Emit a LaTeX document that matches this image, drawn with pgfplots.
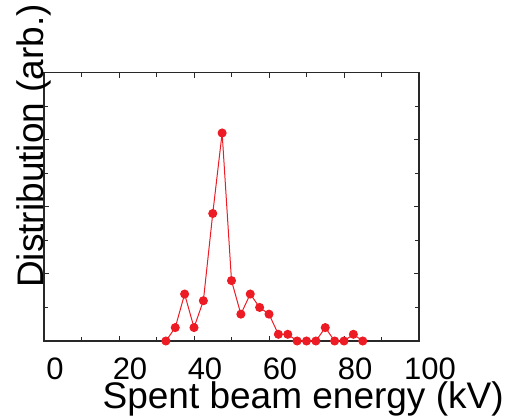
\documentclass[border=0pt]{standalone}
\usepackage{pgfplots}
\pgfplotsset{compat=1.18}
\usepackage{fontspec}
\setmainfont{Liberation Sans}
\definecolor{dred}{RGB}{237,28,36}
\definecolor{axgray}{RGB}{40,40,40}
\begin{document}
\begin{tikzpicture}
\begin{axis}[
  name=ax,
  scale only axis,
  width=375pt, height=268.4pt,
  xmin=0, xmax=100, ymin=0, ymax=40,
  xtick={0,20,...,100},
  minor xtick={10,30,...,90},
  ytick={10,20,30},
  minor ytick={5,15,25,35},
  yticklabels={},
  tick align=inside,
  tick pos=both,
  major tick length=5pt,
  minor tick length=4pt,
  every tick/.style={axgray, line width=0.8pt},
  axis line style={axgray, line width=1.2pt},
  /pgf/number format/assume math mode=true,
  xticklabel style={font=\fontsize{31}{36}\selectfont, anchor=base, yshift=-39pt, xshift=11pt},
  xlabel={Spent beam energy (kV)},
  ylabel={Distribution (arb.)},
  xlabel style={font=\fontsize{37}{44}\selectfont, at={(axis description cs:0.691,0)}, anchor=base, yshift=-68pt},
  ylabel style={font=\fontsize{37}{44}\selectfont, at={(axis description cs:0,0.727)}, anchor=base},
  clip=false,
]
\addplot[dred, line width=1pt, mark=*, mark size=4pt, mark options={fill=dred, draw=dred}] coordinates {
(32.5,0) (35,2) (37.5,7) (40,2) (42.5,6) (45,19) (47.5,31) (50,9) (52.5,4) (55,7) (57.5,5)
(60,4) (62.5,1) (65,1) (67.5,0) (70,0) (72.5,0) (75,2) (77.5,0) (80,0) (82.5,1) (85,0)
};
\end{axis}
\pgfresetboundingbox
\path[use as bounding box] (ax.south west) ++(-44pt,-78pt) rectangle ++(508pt,419pt);
\end{tikzpicture}
\end{document}
